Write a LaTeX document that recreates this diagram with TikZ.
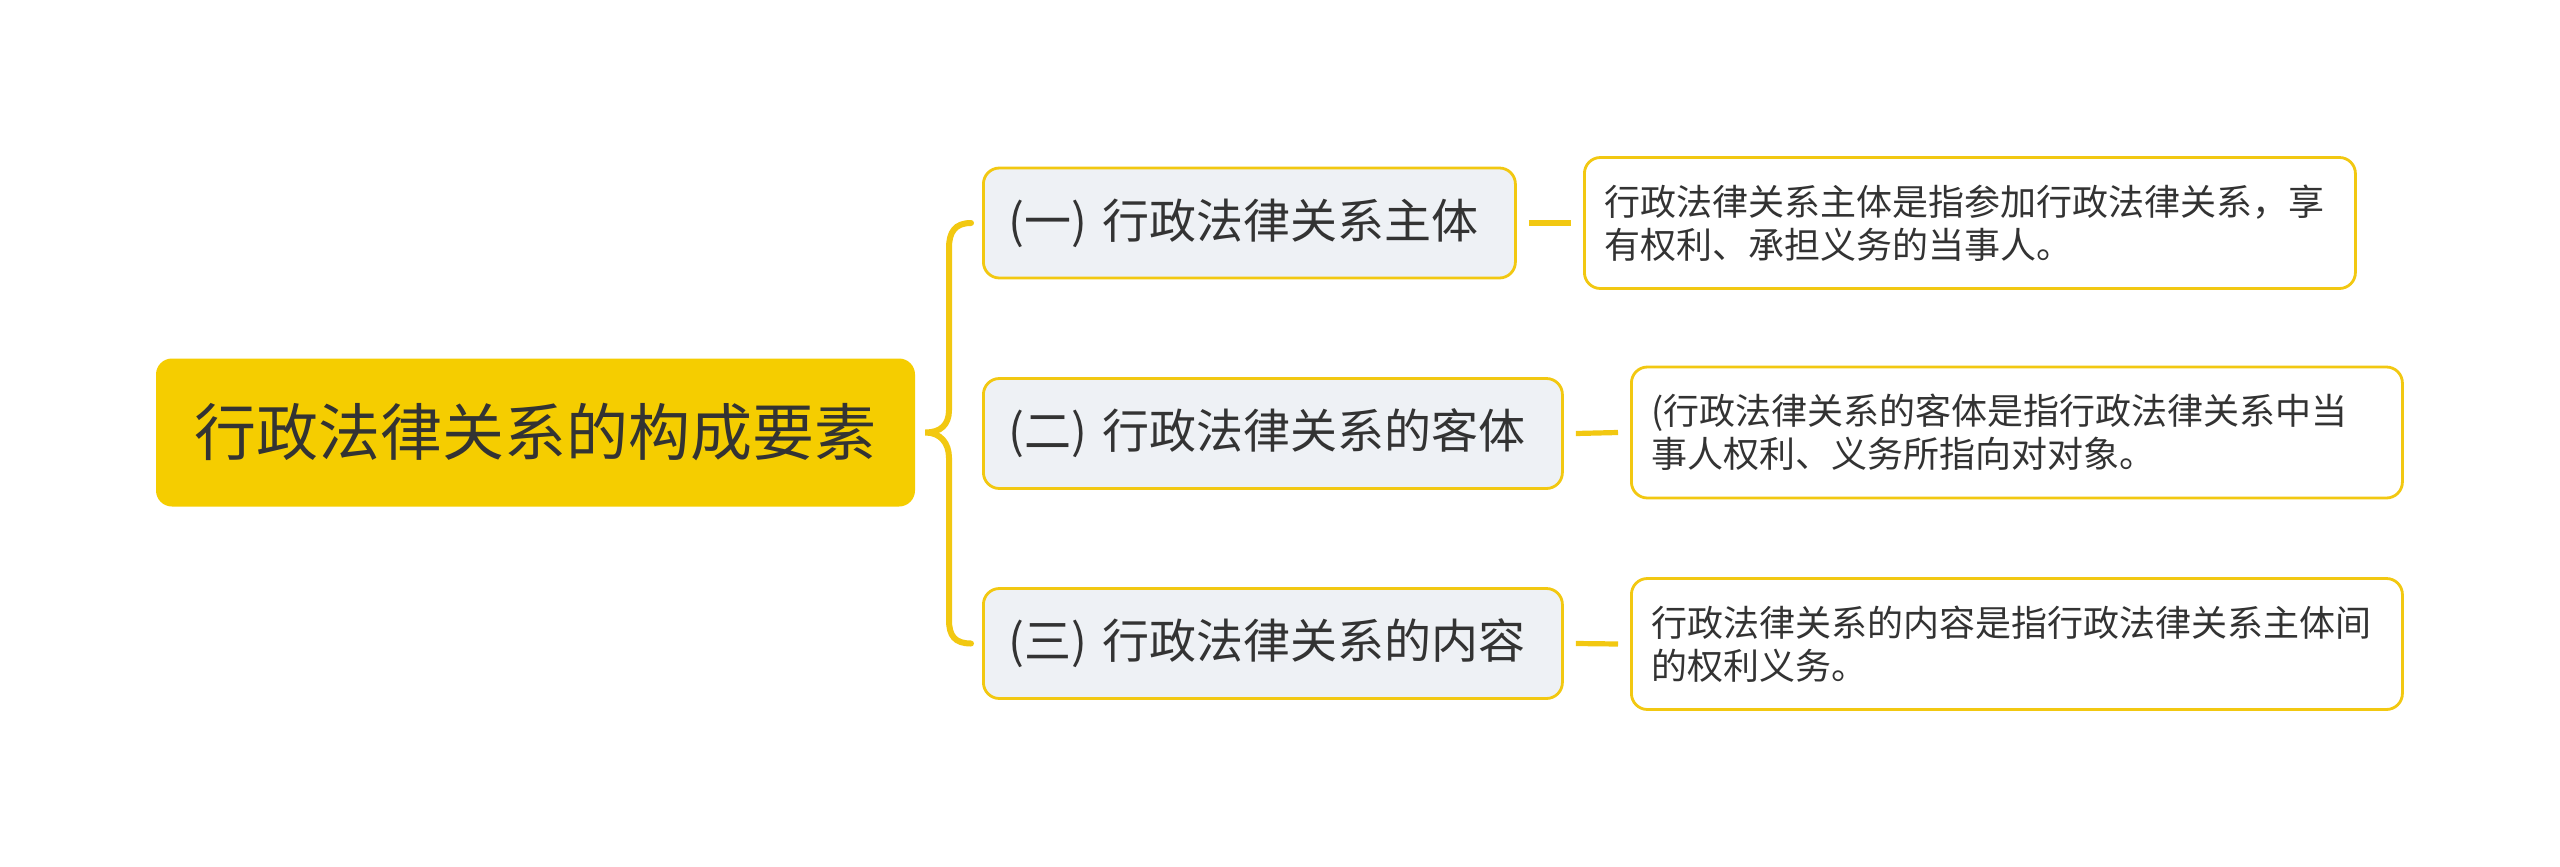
\documentclass[tikz,border=0pt]{standalone}
\usepackage{fontspec}
\newfontfamily\cjk{Noto Sans CJK SC}
\definecolor{rootyellow}{HTML}{F5CD00}
\definecolor{lineyellow}{HTML}{F2C811}
\definecolor{branchfill}{HTML}{EEF1F5}
\definecolor{txt}{HTML}{333333}
\tikzset{
  rootbox/.style={fill=rootyellow, rounded corners=8pt, minimum width=379.5pt, minimum height=74pt,
    inner sep=0pt, text=txt, font=\cjk\fontsize{31}{37}\selectfont, anchor=center},
  branchbox/.style={draw=lineyellow, line width=1.4pt, fill=branchfill, rounded corners=8pt,
    minimum height=55pt, inner xsep=12.5pt, inner ysep=0pt, align=left, text=txt,
    font=\cjk\fontsize{23.5}{28}\selectfont, anchor=west},
  leafbox/.style={draw=lineyellow, line width=1.4pt, fill=white, rounded corners=8pt,
    minimum height=65.5pt, inner xsep=10pt, inner ysep=0pt, text width=365.5pt, align=left, text=txt,
    font=\cjk\fontsize{18}{21.5}\selectfont, anchor=west},
  conn/.style={draw=lineyellow, line width=2.6pt},
  bracepath/.style={draw=lineyellow, line width=3pt, line cap=round}
}
\begin{document}
\begin{tikzpicture}[x=0.5pt,y=-0.5pt]
\fill[white] (0,0) rectangle (2560,867);
\useasboundingbox (0,0) rectangle (2560,867);

\node[rootbox] (root) at (535.5,432.5) {行政法律关系的构成要素};

\node[branchbox, text width=241pt] (b1) at (982,223) {(一) 行政法律关系主体};
\node[branchbox, text width=264.5pt] (b2) at (982,433.5) {(二) 行政法律关系的客体};
\node[branchbox, text width=264.5pt] (b3) at (982,643.5) {(三) 行政法律关系的内容};

\node[leafbox] (l1) at (1583,223) {行政法律关系主体是指参加行政法律关系，享\\有权利、承担义务的当事人。};
\node[leafbox] (l2) at (1630,432.5) {(行政法律关系的客体是指行政法律关系中当\\事人权利、义务所指向对对象。};
\node[leafbox] (l3) at (1630,644) {行政法律关系的内容是指行政法律关系主体间\\的权利义务。};

\coordinate (tip) at ([xshift=5pt]root.east);
\coordinate (bt) at ([xshift=-5.5pt]b1.west);
\coordinate (bb) at ([xshift=-5.5pt]b3.west);
\draw[bracepath] (bt) .. controls +(-16,0) and +(0,-16) .. (949,248)
  -- (949,410) .. controls +(0,15) and +(15,0) .. (tip)
  .. controls +(15,0) and +(0,-15) .. (949,458)
  -- (949,620) .. controls +(0,16) and +(-16,0) .. (bb);

\draw[conn] ([xshift=6pt]b1.east) -- ([xshift=-6pt]l1.west);
\draw[conn] ([xshift=6pt]b2.east) -- ([xshift=-6pt]l2.west);
\draw[conn] ([xshift=6pt]b3.east) -- ([xshift=-6pt]l3.west);
\end{tikzpicture}
\end{document}
